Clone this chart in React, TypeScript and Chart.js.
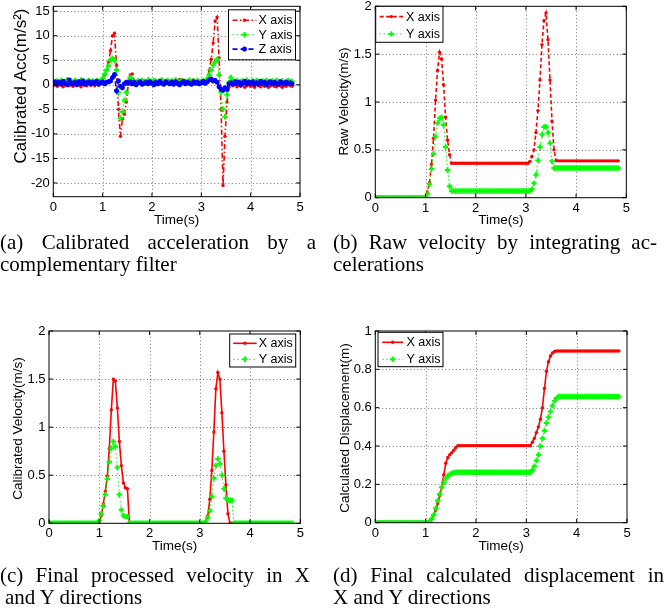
import React, { useEffect, useRef } from 'react';
import { Chart, registerables } from 'chart.js';
import { drawPoint } from 'chart.js/helpers';

Chart.register(...registerables);

// ---------------- DATA ----------------
const N = 122; // samples, 0.04 s apart
const TIME = Array.from({ length: N }, (_, i) => Math.round(i * 4) / 100);

const X_TICKS = [0, 1, 2, 3, 4, 5];
const ACC_TICKS = [-20, -15, -10, -5, 0, 5, 10, 15];
const VEL_TICKS = [0, 0.5, 1, 1.5, 2];
const DISP_TICKS = [0, 0.2, 0.4, 0.6, 0.8, 1];

const SERIES_LABELS = ['X axis', 'Y axis', 'Z axis'];

// (a) calibrated acceleration
const ACC_X = [
  -0.2, 0.1, -0.3, 0.2, -0.1, -0.4, 0.1, 0.3, -0.2, 0.0,
  -0.3, 0.2, -0.1, 0.1, -0.4, 0.0, 0.2, -0.2, 0.3, -0.1,
  0.1, -0.2, 0.2, 0.0, 0.2, 0.8, 2.0, 3.0, 4.6, 7.0,
  10.0, 10.5, 4.0, -5.0, -10.5, -7.0, -6.0, -3.5, 0.2, 2.0,
  2.2, 0.6, 0.3, 0.5, 0.8, 0.4, 0.7, 0.5, 0.9, 0.6,
  0.7, 0.4, 0.9, 0.5, 0.6, 1.0, 0.5, 0.7, 0.4, 0.8,
  0.6, 0.9, 0.5, 0.7, 1.1, 0.6, 0.8, 0.5, 0.9, 0.7,
  0.6, 1.0, 0.7, 0.5, 0.8, 0.6, 0.9, 0.3, 1.2, 3.0,
  5.2, 8.5, 13.0, 13.8, 5.5, -5.0, -20.5, -10.5, -3.5, -0.5,
  0.3, -0.2, 0.1, -0.4, -0.1, -0.3, 0.2, -0.5, -0.2, 0.0,
  -0.3, -0.1, -0.5, 0.1, -0.2, -0.4, 0.0, -0.3, -0.1, -0.5,
  -0.2, 0.1, -0.3, -0.4, 0.0, -0.2, -0.5, -0.1, -0.3, 0.1,
  -0.2, -0.3,
];
const ACC_Y = [
  0.7, 0.5, 0.8, 0.6, 0.9, 0.5, 0.7, 1.0, 0.6, 0.8,
  0.5, 0.9, 0.7, 0.6, 1.0, 0.8, 0.5, 0.7, 0.9, 0.6,
  0.8, 0.6, 0.9, 0.7, 0.9, 1.3, 2.2, 3.0, 3.9, 5.0,
  5.4, 5.0, 3.0, -1.5, -6.8, -5.5, -3.2, -1.5, 0.8, 1.5,
  0.9, 0.7, 0.6, 0.8, 0.5, 0.9, 0.7, 0.6, 1.0, 0.8,
  0.6, 0.9, 0.7, 0.5, 0.8, 1.0, 0.6, 0.7, 0.9, 0.5,
  0.8, 0.6, 1.0, 0.7, 0.5, 0.9, 0.8, 0.6, 0.7, 1.0,
  0.6, 0.8, 0.5, 0.9, 0.7, 0.6, 0.8, 0.7, 1.2, 2.0,
  3.0, 4.0, 4.7, 5.2, 2.0, -1.5, -5.0, -6.5, -2.0, 0.5,
  1.5, 0.8, 0.6, 0.9, 0.5, 0.7, 0.8, 0.6, 1.0, 0.7,
  0.5, 0.8, 0.6, 0.9, 0.7, 0.5, 0.8, 0.6, 0.9, 0.7,
  0.6, 0.8, 0.5, 0.9, 0.7, 0.6, 0.8, 0.5, 0.7, 0.9,
  0.6, 0.7,
];
const ACC_Z = [
  0.3, 0.6, 0.1, 0.5, 0.2, 0.7, 0.3, 0.0, 1.0, 0.4,
  0.2, 0.5, 0.0, 0.6, 0.3, 0.8, 0.1, 0.4, 0.6, 0.2,
  0.5, 0.3, 0.7, 0.1, 0.4, 0.6, 0.2, 0.5, 0.6, 0.8,
  1.5, 2.1, -1.2, 0.8, -0.3, -0.6, 0.2, 0.5, 0.3, 0.6,
  0.2, 0.5, 0.0, 0.4, 0.6, 0.1, 0.3, 0.5, 0.2, 0.6,
  0.3, 0.0, 0.5, 0.2, 0.7, 0.3, 0.1, 0.6, 0.4, 0.2,
  0.5, 0.1, 0.6, 0.3, 0.0, 0.4, 0.7, 0.2, 0.5, 0.3,
  0.1, 0.6, 0.3, 0.5, 0.2, 0.4, 0.7, 0.3, 0.6, 1.0,
  1.2, 0.8, 0.9, 0.5, -0.4, -0.9, -1.1, -0.6, -0.9, 0.2,
  0.4, 0.1, 0.6, 0.3, 0.5, 0.0, 0.4, 0.7, 0.2, 0.5,
  0.3, 0.6, 0.1, 0.4, 0.2, 0.7, 0.3, 0.5, 0.0, 0.4,
  0.6, 0.2, 0.5, 0.3, 0.1, 0.6, 0.4, 0.2, 0.5, 0.3,
  0.4, 0.2,
];

// (b) raw velocity
const VEL_RAW_X = [
  0, 0, 0, 0, 0, 0, 0, 0, 0, 0,
  0, 0, 0, 0, 0, 0, 0, 0, 0, 0,
  0, 0, 0, 0, 0, 0.01, 0.06, 0.16, 0.35, 0.62,
  1.02, 1.33, 1.52, 1.45, 1.18, 0.84, 0.6, 0.45, 0.36, 0.36,
  0.36, 0.36, 0.36, 0.36, 0.36, 0.36, 0.36, 0.36, 0.36, 0.36,
  0.36, 0.36, 0.36, 0.36, 0.36, 0.36, 0.36, 0.36, 0.36, 0.36,
  0.36, 0.36, 0.36, 0.36, 0.36, 0.36, 0.36, 0.36, 0.36, 0.36,
  0.36, 0.36, 0.36, 0.36, 0.36, 0.36, 0.36, 0.38, 0.43, 0.5,
  0.68, 0.91, 1.23, 1.6, 1.85, 1.93, 1.65, 1.23, 0.8, 0.5,
  0.39, 0.385, 0.385, 0.385, 0.385, 0.385, 0.385, 0.385, 0.385, 0.385,
  0.385, 0.385, 0.385, 0.385, 0.385, 0.385, 0.385, 0.385, 0.385, 0.385,
  0.385, 0.385, 0.385, 0.385, 0.385, 0.385, 0.385, 0.385, 0.385, 0.385,
  0.385, 0.385,
];
const VEL_RAW_Y = [
  0, 0, 0, 0, 0, 0, 0, 0, 0, 0,
  0, 0, 0, 0, 0, 0, 0, 0, 0, 0,
  0, 0, 0, 0, 0, 0, 0.04, 0.14, 0.3, 0.46,
  0.64, 0.78, 0.83, 0.84, 0.76, 0.53, 0.29, 0.12, 0.07, 0.07,
  0.07, 0.07, 0.07, 0.07, 0.07, 0.07, 0.07, 0.07, 0.07, 0.07,
  0.07, 0.07, 0.07, 0.07, 0.07, 0.07, 0.07, 0.07, 0.07, 0.07,
  0.07, 0.07, 0.07, 0.07, 0.07, 0.07, 0.07, 0.07, 0.07, 0.07,
  0.07, 0.07, 0.07, 0.07, 0.07, 0.07, 0.07, 0.07, 0.09, 0.15,
  0.24, 0.39, 0.53, 0.66, 0.74, 0.74, 0.68, 0.57, 0.38, 0.31,
  0.31, 0.31, 0.31, 0.31, 0.31, 0.31, 0.31, 0.31, 0.31, 0.31,
  0.31, 0.31, 0.31, 0.31, 0.31, 0.31, 0.31, 0.31, 0.31, 0.31,
  0.31, 0.31, 0.31, 0.31, 0.31, 0.31, 0.31, 0.31, 0.31, 0.31,
  0.31, 0.31,
];

// (c) calibrated velocity
const VEL_CAL_X = [
  0, 0, 0, 0, 0, 0, 0, 0, 0, 0,
  0, 0, 0, 0, 0, 0, 0, 0, 0, 0,
  0, 0, 0, 0, 0, 0, 0.08, 0.2, 0.33, 0.49,
  0.78, 1.18, 1.5, 1.48, 1.2, 0.85, 0.6, 0.42, 0.37, 0.36,
  0, 0, 0, 0, 0, 0, 0, 0, 0, 0,
  0, 0, 0, 0, 0, 0, 0, 0, 0, 0,
  0, 0, 0, 0, 0, 0, 0, 0, 0, 0,
  0, 0, 0, 0, 0, 0, 0, 0, 0.02, 0.08,
  0.25, 0.55, 0.95, 1.4, 1.57, 1.5, 1.15, 0.75, 0.4, 0.1,
  0, 0, 0, 0, 0, 0, 0, 0, 0, 0,
  0, 0, 0, 0, 0, 0, 0, 0, 0, 0,
  0, 0, 0, 0, 0, 0, 0, 0, 0, 0,
  0, 0,
];
const VEL_CAL_Y = [
  0, 0, 0, 0, 0, 0, 0, 0, 0, 0,
  0, 0, 0, 0, 0, 0, 0, 0, 0, 0,
  0, 0, 0, 0, 0, 0.03, 0.1, 0.18, 0.3, 0.46,
  0.64, 0.78, 0.85, 0.8, 0.58, 0.3, 0.14, 0.08, 0.07, 0.07,
  0, 0, 0, 0, 0, 0, 0, 0, 0, 0,
  0, 0, 0, 0, 0, 0, 0, 0, 0, 0,
  0, 0, 0, 0, 0, 0, 0, 0, 0, 0,
  0, 0, 0, 0, 0, 0, 0, 0, 0.02, 0.06,
  0.13, 0.28, 0.47, 0.6, 0.67, 0.62, 0.5, 0.36, 0.26, 0.24,
  0.24, 0.24, 0, 0, 0, 0, 0, 0, 0, 0,
  0, 0, 0, 0, 0, 0, 0, 0, 0, 0,
  0, 0, 0, 0, 0, 0, 0, 0, 0, 0,
  0, 0,
];

// (d) displacement
const DISP_X = [
  0, 0, 0, 0, 0, 0, 0, 0, 0, 0,
  0, 0, 0, 0, 0, 0, 0, 0, 0, 0,
  0, 0, 0, 0, 0, 0, 0.002, 0.005, 0.02, 0.04,
  0.065, 0.1, 0.14, 0.185, 0.25, 0.31, 0.34, 0.355, 0.365, 0.378,
  0.392, 0.402, 0.402, 0.402, 0.402, 0.402, 0.402, 0.402, 0.402, 0.402,
  0.402, 0.402, 0.402, 0.402, 0.402, 0.402, 0.402, 0.402, 0.402, 0.402,
  0.402, 0.402, 0.402, 0.402, 0.402, 0.402, 0.402, 0.402, 0.402, 0.402,
  0.402, 0.402, 0.402, 0.402, 0.402, 0.402, 0.402, 0.402, 0.42, 0.44,
  0.47, 0.5, 0.54, 0.6, 0.7, 0.79, 0.84, 0.87, 0.885, 0.893,
  0.896, 0.896, 0.896, 0.896, 0.896, 0.896, 0.896, 0.896, 0.896, 0.896,
  0.896, 0.896, 0.896, 0.896, 0.896, 0.896, 0.896, 0.896, 0.896, 0.896,
  0.896, 0.896, 0.896, 0.896, 0.896, 0.896, 0.896, 0.896, 0.896, 0.896,
  0.896, 0.896,
];
const DISP_Y = [
  0, 0, 0, 0, 0, 0, 0, 0, 0, 0,
  0, 0, 0, 0, 0, 0, 0, 0, 0, 0,
  0, 0, 0, 0, 0, 0, 0, 0.005, 0.02, 0.04,
  0.075, 0.115, 0.15, 0.185, 0.21, 0.232, 0.245, 0.253, 0.258, 0.261,
  0.263, 0.263, 0.263, 0.263, 0.263, 0.263, 0.263, 0.263, 0.263, 0.263,
  0.263, 0.263, 0.263, 0.263, 0.263, 0.263, 0.263, 0.263, 0.263, 0.263,
  0.263, 0.263, 0.263, 0.263, 0.263, 0.263, 0.263, 0.263, 0.263, 0.263,
  0.263, 0.263, 0.263, 0.263, 0.263, 0.263, 0.263, 0.263, 0.275, 0.295,
  0.325, 0.355, 0.4, 0.44, 0.48, 0.52, 0.55, 0.58, 0.61, 0.635,
  0.65, 0.658, 0.658, 0.658, 0.658, 0.658, 0.658, 0.658, 0.658, 0.658,
  0.658, 0.658, 0.658, 0.658, 0.658, 0.658, 0.658, 0.658, 0.658, 0.658,
  0.658, 0.658, 0.658, 0.658, 0.658, 0.658, 0.658, 0.658, 0.658, 0.658,
  0.658, 0.658,
];

const ALL = { ACC_X, ACC_Y, ACC_Z, VEL_RAW_X, VEL_RAW_Y, VEL_CAL_X, VEL_CAL_Y, DISP_X, DISP_Y };
Object.entries(ALL).forEach(([k, v]) => {
  if (v.length !== N) throw new Error(`${k} has ${v.length} values, expected ${N}`);
});

// ---------------- STYLE ----------------
const SANS = '"Liberation Sans", Arial, Helvetica, sans-serif';
const SERIF = '"Liberation Serif", "Times New Roman", serif';
const RED = '#ff0000';
const GREEN = '#00ff00';
const BLUE = '#0000ff';
const GRID = 'rgba(0,0,0,0.55)';
const TICK_SIZE = 13;
const XTITLE_SIZE = 13.5;
const LEGEND_SIZE = 12.5;

const pts = (vals: number[]) => vals.map((y, i) => ({ x: TIME[i], y }));

function redDots(label: string, vals: number[], dash: number[], order: number) {
  return {
    label, data: pts(vals), order,
    borderColor: RED, borderWidth: 1.6, borderDash: dash,
    pointStyle: 'circle', pointRadius: 1.7, pointBorderWidth: 0,
    pointBackgroundColor: RED, pointBorderColor: RED, fill: false, tension: 0,
  };
}
function greenPlus(label: string, vals: number[], order: number) {
  return {
    label, data: pts(vals), order,
    borderColor: GREEN, borderWidth: 1, borderDash: [1.5, 2.5],
    pointStyle: 'cross', pointRadius: 2.7, pointBorderWidth: 2,
    pointBackgroundColor: GREEN, pointBorderColor: GREEN, fill: false, tension: 0,
  };
}
function blueStar(label: string, vals: number[], order: number) {
  return {
    label, data: pts(vals), order,
    borderColor: BLUE, borderWidth: 1.6, borderDash: [5, 3],
    pointStyle: 'star', pointRadius: 2.5, pointBorderWidth: 1.5,
    pointBackgroundColor: BLUE, pointBorderColor: BLUE, fill: false, tension: 0,
  };
}

type LegendSpec = { side: 'left' | 'right'; dx: number; dy: number; w: number; h: number; firstY: number; rowH: number; pad: number; sample: number; gap: number };
type PanelSpec = {
  canvas: { left: number; top: number; width: number; height: number };
  area: { l: number; t: number; r: number; b: number };
  yMin: number; yMax: number; yTicks: number[];
  yTitle: string; yTitleSize: number; yTitleX: number; yTitleY: number;
  xTitle: string; xTitleDy: number;
  datasets: any[];
  legend: LegendSpec;
};

const PANELS: PanelSpec[] = [
  {
    canvas: { left: 0, top: -5, width: 333, height: 240 },
    area: { l: 53.3, t: 5, r: 300, b: 196.7 },
    yMin: -22.8, yMax: 16, yTicks: ACC_TICKS,
    yTitle: 'Calibrated Acc(m/s\u00B2)', yTitleSize: 17, yTitleX: 21.5, yTitleY: 86,
    xTitle: 'Time(s)', xTitleDy: 23.5,
    datasets: [
      redDots(SERIES_LABELS[0], ACC_X, [5, 2.5, 1.5, 2.5], 3),
      greenPlus(SERIES_LABELS[1], ACC_Y, 2),
      blueStar(SERIES_LABELS[2], ACC_Z, 1),
    ],
    legend: { side: 'right', dx: 4.5, dy: 3.5, w: 67, h: 50, firstY: 10.5, rowH: 14.4, pad: 4, sample: 24, gap: 2 },
  },
  {
    canvas: { left: 333, top: -5, width: 333, height: 240 },
    area: { l: 375.3, t: 5.7, r: 626.3, b: 197.7 },
    yMin: 0, yMax: 2, yTicks: VEL_TICKS,
    yTitle: 'Raw Velocity(m/s)', yTitleSize: 13.5, yTitleX: 344, yTitleY: 101.5,
    xTitle: 'Time(s)', xTitleDy: 23,
    datasets: [
      redDots(SERIES_LABELS[0], VEL_RAW_X, [4, 2.5], 2),
      greenPlus(SERIES_LABELS[1], VEL_RAW_Y, 1),
    ],
    legend: { side: 'left', dx: 0.4, dy: 0, w: 67.3, h: 36, firstY: 10.3, rowH: 17.3, pad: 4, sample: 23.3, gap: 3 },
  },
  {
    canvas: { left: 0, top: 300, width: 333, height: 268 },
    area: { l: 49, t: 331, r: 300.3, b: 523.3 },
    yMin: 0, yMax: 2, yTicks: VEL_TICKS,
    yTitle: 'Calibrated Velocity(m/s)', yTitleSize: 13.5, yTitleX: 18.5, yTitleY: 428.5,
    xTitle: 'Time(s)', xTitleDy: 23,
    datasets: [
      redDots(SERIES_LABELS[0], VEL_CAL_X, [], 2),
      greenPlus(SERIES_LABELS[1], VEL_CAL_Y, 1),
    ],
    legend: { side: 'right', dx: 4.6, dy: 3, w: 66, h: 33, firstY: 9.3, rowH: 16, pad: 3.5, sample: 23.5, gap: 2 },
  },
  {
    canvas: { left: 333, top: 300, width: 333, height: 268 },
    area: { l: 375.3, t: 331, r: 627, b: 522.7 },
    yMin: 0, yMax: 1, yTicks: DISP_TICKS,
    yTitle: 'Calculated Displacement(m)', yTitleSize: 13.5, yTitleX: 345.5, yTitleY: 428,
    xTitle: 'Time(s)', xTitleDy: 23.5,
    datasets: [
      redDots(SERIES_LABELS[0], DISP_X, [], 2),
      greenPlus(SERIES_LABELS[1], DISP_Y, 1),
    ],
    legend: { side: 'left', dx: 2.7, dy: 1.3, w: 65, h: 34.4, firstY: 10, rowH: 17, pad: 4.3, sample: 20.7, gap: 3.5 },
  },
];

const CAPTIONS = [
  { left: 0, top: 231, width: 316, first: '(a)  Calibrated acceleration by a', second: 'complementary filter', indent: 0 },
  { left: 333, top: 231, width: 324, first: '(b) Raw velocity by integrating ac-', second: 'celerations', indent: 0 },
  { left: 0, top: 564, width: 310, first: '(c) Final processed velocity in X', second: 'and Y directions', indent: 5 },
  { left: 333, top: 564, width: 331, first: '(d) Final calculated displacement in', second: 'X and Y directions', indent: 0 },
];

// ---------------- PLUGIN: MATLAB-style grid, frame, ticks, titles, legend ----------------
const framePlugin = {
  id: 'matlabFrame',
  beforeDatasetsDraw(chart: any) {
    const { ctx, chartArea, scales } = chart;
    const { left, top, right, bottom } = chartArea;
    ctx.save();
    ctx.strokeStyle = GRID;
    ctx.lineWidth = 1;
    ctx.setLineDash([1, 2.5]);
    ctx.beginPath();
    scales.x.ticks.forEach((t: any) => {
      const px = Math.round(scales.x.getPixelForValue(t.value)) + 0.5;
      if (px - left < 2 || right - px < 2) return;
      ctx.moveTo(px, bottom); ctx.lineTo(px, top);
    });
    scales.y.ticks.forEach((t: any) => {
      const py = Math.round(scales.y.getPixelForValue(t.value)) + 0.5;
      if (py - top < 2 || bottom - py < 2) return;
      ctx.moveTo(left, py); ctx.lineTo(right, py);
    });
    ctx.stroke();
    ctx.restore();
  },
  afterDraw(chart: any, _args: any, opts: any) {
    const { ctx, chartArea, scales } = chart;
    const { left, top, right, bottom } = chartArea;
    ctx.save();
    ctx.setLineDash([]);
    ctx.strokeStyle = '#000';
    ctx.lineWidth = 1;
    ctx.strokeRect(left, top, right - left, bottom - top);
    const L = 4;
    ctx.beginPath();
    scales.x.ticks.forEach((t: any) => {
      const px = scales.x.getPixelForValue(t.value);
      ctx.moveTo(px, bottom); ctx.lineTo(px, bottom - L);
      ctx.moveTo(px, top); ctx.lineTo(px, top + L);
    });
    scales.y.ticks.forEach((t: any) => {
      const py = scales.y.getPixelForValue(t.value);
      ctx.moveTo(left, py); ctx.lineTo(left + L, py);
      ctx.moveTo(right, py); ctx.lineTo(right - L, py);
    });
    ctx.stroke();

    // axis titles
    ctx.fillStyle = '#000';
    ctx.textAlign = 'center';
    ctx.textBaseline = 'middle';
    ctx.font = `${XTITLE_SIZE}px ${SANS}`;
    ctx.fillText(opts.xTitle, (left + right) / 2, bottom + opts.xTitleDy);
    ctx.save();
    ctx.translate(opts.yTitleX, opts.yTitleY);
    ctx.rotate(-Math.PI / 2);
    ctx.font = `${opts.yTitleSize}px ${SANS}`;
    ctx.fillText(opts.yTitle, 0, 0);
    ctx.restore();

    // legend
    const lg: LegendSpec = opts.legend;
    const bx = lg.side === 'right' ? right - lg.dx - lg.w : left + lg.dx;
    const by = top + lg.dy;
    ctx.fillStyle = '#fff';
    ctx.fillRect(bx, by, lg.w, lg.h);
    ctx.strokeStyle = '#000';
    ctx.lineWidth = 1;
    ctx.strokeRect(bx, by, lg.w, lg.h);
    chart.data.datasets.forEach((ds: any, i: number) => {
      const cy = by + lg.firstY + i * lg.rowH;
      const x0 = bx + lg.pad;
      const x1 = x0 + lg.sample;
      ctx.beginPath();
      ctx.setLineDash(ds.borderDash || []);
      ctx.strokeStyle = ds.borderColor;
      ctx.lineWidth = ds.borderWidth;
      ctx.moveTo(x0, cy);
      ctx.lineTo(x1, cy);
      ctx.stroke();
      ctx.setLineDash([]);
      ctx.fillStyle = ds.pointBackgroundColor;
      ctx.strokeStyle = ds.pointBorderColor;
      ctx.lineWidth = ds.pointBorderWidth;
      drawPoint(ctx, { pointStyle: ds.pointStyle, radius: ds.pointRadius, borderWidth: ds.pointBorderWidth, rotation: 0 } as any, (x0 + x1) / 2, cy);
      ctx.fillStyle = '#000';
      ctx.font = `${LEGEND_SIZE}px ${SANS}`;
      ctx.textAlign = 'left';
      ctx.textBaseline = 'middle';
      ctx.fillText(ds.label, x1 + lg.gap, cy + 0.5);
    });
    ctx.restore();
  },
};

function buildConfig(p: PanelSpec): any {
  const { canvas: c, area: a } = p;
  const yWidth = a.l - c.left;
  const xHeight = c.top + c.height - a.b;
  const tickFont = { family: SANS, size: TICK_SIZE };
  const fmt = (v: any) => String(v);
  return {
    type: 'line',
    data: { datasets: p.datasets },
    options: {
      responsive: false,
      animation: false,
      events: [],
      layout: { padding: { left: 0, top: a.t - c.top, right: c.left + c.width - a.r, bottom: 0 } },
      plugins: {
        legend: { display: false },
        tooltip: { enabled: false },
        matlabFrame: {
          xTitle: p.xTitle, xTitleDy: p.xTitleDy,
          yTitle: p.yTitle, yTitleSize: p.yTitleSize,
          yTitleX: p.yTitleX - c.left, yTitleY: p.yTitleY - c.top,
          legend: p.legend,
        },
      },
      scales: {
        x: {
          type: 'linear', min: 0, max: 5,
          afterBuildTicks: (s: any) => { s.ticks = X_TICKS.map((v) => ({ value: v })); },
          afterFit: (s: any) => { s.height = xHeight; },
          grid: { display: false, drawTicks: false },
          border: { display: false },
          ticks: { font: tickFont, color: '#000', padding: 2.5, maxRotation: 0, autoSkip: false, callback: fmt },
        },
        y: {
          type: 'linear', min: p.yMin, max: p.yMax,
          afterBuildTicks: (s: any) => { s.ticks = p.yTicks.map((v) => ({ value: v })); },
          afterFit: (s: any) => { s.width = yWidth; },
          grid: { display: false, drawTicks: false },
          border: { display: false },
          ticks: { font: tickFont, color: '#000', padding: 3.5, autoSkip: false, callback: fmt },
        },
      },
    },
    plugins: [framePlugin],
  };
}

function Panel({ spec }: { spec: PanelSpec }) {
  const ref = useRef<HTMLCanvasElement>(null);
  useEffect(() => {
    const chart = new Chart(ref.current as HTMLCanvasElement, buildConfig(spec));
    return () => chart.destroy();
  }, [spec]);
  const c = spec.canvas;
  return (
    <canvas
      ref={ref}
      width={c.width}
      height={c.height}
      style={{ position: 'absolute', left: c.left, top: c.top, width: c.width, height: c.height }}
    />
  );
}

export default function App() {
  return (
    <div style={{ position: 'absolute', left: 0, top: 0, width: 666, height: 612, overflow: 'hidden', background: '#fff' }}>
      {PANELS.map((p, i) => <Panel key={i} spec={p} />)}
      {CAPTIONS.map((cap, i) => (
        <React.Fragment key={i}>
          <div
            style={{
              position: 'absolute', left: cap.left, top: cap.top, width: cap.width,
              font: `21px ${SERIF}`, lineHeight: '22px', color: '#000',
              textAlign: 'justify', textAlignLast: 'justify', whiteSpace: 'nowrap',
            }}
          >
            {cap.first}
          </div>
          <div
            style={{
              position: 'absolute', left: cap.left + cap.indent, top: cap.top + 22,
              font: `21px ${SERIF}`, lineHeight: '22px', color: '#000', whiteSpace: 'nowrap',
            }}
          >
            {cap.second}
          </div>
        </React.Fragment>
      ))}
    </div>
  );
}
